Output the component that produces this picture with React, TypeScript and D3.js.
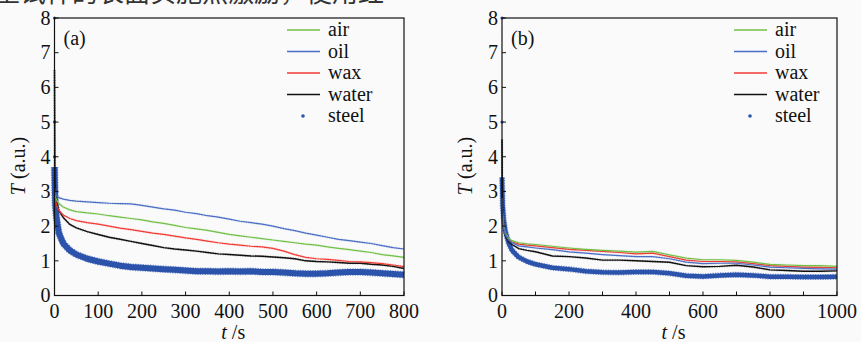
import React, { useEffect, useRef } from "react";
import * as d3 from "d3";

// panel (a): time in s
const timeA = [0, 1, 2, 5, 10, 20, 35, 50, 75, 100, 125, 150, 175, 200, 225, 250, 275, 300, 325, 350, 375, 400, 425, 450, 475, 500, 525, 550, 575, 600, 625, 650, 675, 700, 725, 750, 775, 800];
const airA = [2.95, 2.9, 2.85, 2.75, 2.65, 2.55, 2.47, 2.42, 2.38, 2.35, 2.3, 2.26, 2.22, 2.18, 2.12, 2.08, 2.02, 1.96, 1.92, 1.88, 1.82, 1.76, 1.72, 1.68, 1.64, 1.6, 1.56, 1.52, 1.48, 1.45, 1.4, 1.36, 1.32, 1.28, 1.24, 1.18, 1.14, 1.1];
const oilA = [3.1, 3.0, 2.95, 2.88, 2.82, 2.78, 2.74, 2.72, 2.7, 2.68, 2.66, 2.65, 2.64, 2.6, 2.55, 2.5, 2.46, 2.4, 2.36, 2.3, 2.26, 2.2, 2.14, 2.1, 2.06, 2.0, 1.93, 1.87, 1.8, 1.74, 1.68, 1.62, 1.58, 1.54, 1.5, 1.44, 1.38, 1.34];
const waxA = [2.85, 2.8, 2.75, 2.6, 2.45, 2.32, 2.22, 2.16, 2.1, 2.06, 2.0, 1.94, 1.9, 1.85, 1.8, 1.76, 1.71, 1.66, 1.62, 1.57, 1.52, 1.48, 1.45, 1.42, 1.4, 1.36, 1.28, 1.18, 1.1, 1.06, 1.04, 1.01, 0.98, 0.97, 0.95, 0.92, 0.88, 0.83];
const waterA = [6.5, 3.3, 2.9, 2.7, 2.45, 2.25, 2.05, 1.95, 1.84, 1.76, 1.68, 1.62, 1.56, 1.5, 1.44, 1.38, 1.34, 1.31, 1.28, 1.24, 1.2, 1.18, 1.16, 1.14, 1.13, 1.11, 1.09, 1.06, 1.0, 0.98, 0.97, 0.95, 0.93, 0.93, 0.9, 0.88, 0.84, 0.78];
const steelA = [3.7, 3.0, 2.6, 2.2, 1.8, 1.5, 1.3, 1.18, 1.06, 0.98, 0.92, 0.86, 0.82, 0.8, 0.78, 0.76, 0.74, 0.72, 0.7, 0.7, 0.69, 0.7, 0.69, 0.7, 0.68, 0.68, 0.66, 0.64, 0.63, 0.63, 0.64, 0.66, 0.68, 0.68, 0.66, 0.64, 0.62, 0.6];
const steelStartA = [8, 5, 4, 3.4];

// panel (b)
const timeB = [0, 1, 2, 5, 10, 20, 30, 50, 75, 100, 150, 200, 250, 300, 350, 400, 450, 500, 550, 600, 650, 700, 750, 800, 850, 900, 950, 1000];
const airB = [2.8, 2.5, 2.3, 2.0, 1.8, 1.65, 1.58, 1.52, 1.49, 1.47, 1.42, 1.37, 1.33, 1.3, 1.28, 1.25, 1.27, 1.17, 1.08, 1.03, 1.03, 1.01, 0.96, 0.9, 0.88, 0.86, 0.86, 0.84];
const oilB = [2.8, 2.5, 2.3, 1.98, 1.76, 1.6, 1.52, 1.43, 1.4, 1.37, 1.32, 1.26, 1.22, 1.18, 1.15, 1.12, 1.12, 1.06, 0.96, 0.92, 0.93, 0.93, 0.88, 0.82, 0.8, 0.78, 0.77, 0.76];
const waxB = [2.8, 2.5, 2.3, 2.0, 1.78, 1.62, 1.55, 1.48, 1.45, 1.43, 1.38, 1.33, 1.3, 1.27, 1.24, 1.2, 1.22, 1.12, 1.02, 0.98, 0.98, 0.97, 0.92, 0.86, 0.84, 0.82, 0.81, 0.8];
const waterB = [4.5, 3.0, 2.6, 2.0, 1.72, 1.55, 1.47, 1.35, 1.3, 1.26, 1.14, 1.12, 1.08, 1.02, 1.02, 1.0, 0.98, 0.96, 0.86, 0.83, 0.84, 0.87, 0.82, 0.74, 0.72, 0.7, 0.7, 0.71];
const steelB = [3.4, 3.0, 2.6, 2.2, 1.85, 1.5, 1.3, 1.1, 0.98, 0.9, 0.8, 0.76, 0.7, 0.67, 0.66, 0.68, 0.68, 0.64, 0.57, 0.55, 0.58, 0.6, 0.58, 0.54, 0.54, 0.53, 0.53, 0.54];
const steelStartB = [8, 5];

const yTicks = [0, 1, 2, 3, 4, 5, 6, 7, 8];
const xTicksA = [0, 100, 200, 300, 400, 500, 600, 700, 800];
const xLabelsA = [0, 100, 200, 300, 400, 500, 600, 700, 800];
const xTicksB = [0, 100, 200, 300, 400, 500, 600, 700, 800, 900, 1000];
const xLabelsB = [0, 200, 400, 600, 800, 1000];

const legendNames = ["air", "oil", "wax", "water", "steel"];
const colors: Record<string, string> = {
  air: "#72c046",
  oil: "#4a6ec4",
  wax: "#f23a35",
  water: "#111111",
  steel: "#2b53ab",
};

const serif = "Liberation Serif, Times New Roman, DejaVu Serif, Noto Serif, serif";

function drawPanel(svg: any, opt: any) {
  const g = svg.append("g");
  const x = d3.scaleLinear().domain([0, opt.xMax]).range([opt.left, opt.right]);
  const y = d3.scaleLinear().domain([0, 8]).range([295.5, 18]);

  const line = d3
    .line<number>()
    .x((d, i) => x(opt.time[i]))
    .y((d) => y(d));

  // steel dots: dense band with ragged edge
  g.append("path")
    .attr("d", line(opt.steel))
    .attr("fill", "none")
    .attr("stroke", colors.steel)
    .attr("stroke-width", opt.band + 1.5)
    .attr("stroke-dasharray", "1.2,1.3")
    .attr("stroke-opacity", 0.6);
  g.append("path")
    .attr("d", line(opt.steel))
    .attr("fill", "none")
    .attr("stroke", colors.steel)
    .attr("stroke-width", opt.band)
    .attr("stroke-linejoin", "round");

  g.selectAll(".start")
    .data(opt.steelStart)
    .enter()
    .append("circle")
    .attr("cx", x(0))
    .attr("cy", (d: number) => y(d))
    .attr("r", 1.6)
    .attr("fill", colors.steel);

  const series = [
    ["water", opt.water],
    ["wax", opt.wax],
    ["air", opt.air],
    ["oil", opt.oil],
  ];
  series.forEach(([name, vals]: any) => {
    g.append("path")
      .attr("d", line(vals))
      .attr("fill", "none")
      .attr("stroke", colors[name])
      .attr("stroke-opacity", 0.3)
      .attr("stroke-width", 2.6)
      .attr("stroke-dasharray", "1,1.5");
    g.append("path")
      .attr("d", line(vals))
      .attr("fill", "none")
      .attr("stroke", colors[name])
      .attr("stroke-width", name === "water" ? 1.4 : 1.2);
  });

  // frame
  g.append("rect")
    .attr("x", opt.left)
    .attr("y", 18)
    .attr("width", opt.right - opt.left)
    .attr("height", 295.5 - 18)
    .attr("fill", "none")
    .attr("stroke", "#111")
    .attr("stroke-width", 1.2);

  // inward ticks
  g.selectAll(".yt")
    .data(yTicks)
    .enter()
    .append("line")
    .attr("x1", opt.left)
    .attr("x2", opt.left + 4)
    .attr("y1", (d: number) => y(d))
    .attr("y2", (d: number) => y(d))
    .attr("stroke", "#111");
  g.selectAll(".xt")
    .data(opt.xTicks)
    .enter()
    .append("line")
    .attr("x1", (d: number) => x(d))
    .attr("x2", (d: number) => x(d))
    .attr("y1", 295.5)
    .attr("y2", 291.5)
    .attr("stroke", "#111");

  g.selectAll(".yl")
    .data(yTicks)
    .enter()
    .append("text")
    .attr("x", opt.left - 4)
    .attr("y", (d: number) => y(d))
    .attr("dy", "0.34em")
    .attr("text-anchor", "end")
    .attr("font-family", serif)
    .attr("font-size", 20)
    .attr("fill", "#111")
    .text((d: number) => d);
  g.selectAll(".xl")
    .data(opt.xLabels)
    .enter()
    .append("text")
    .attr("x", (d: number) => x(d))
    .attr("y", 318)
    .attr("text-anchor", "middle")
    .attr("font-family", serif)
    .attr("font-size", 20)
    .attr("fill", "#111")
    .text((d: number) => d);

  // axis titles
  const yt = g
    .append("text")
    .attr("transform", "translate(" + opt.yTitleX + ",166) rotate(-90)")
    .attr("text-anchor", "middle")
    .attr("dy", "0.35em")
    .attr("font-family", serif)
    .attr("font-size", 20)
    .attr("fill", "#111");
  yt.append("tspan").attr("font-style", "italic").text("T");
  yt.append("tspan").text(" (a.u.)");

  const xt = g
    .append("text")
    .attr("x", (opt.left + opt.right) / 2 + 4)
    .attr("y", 339)
    .attr("text-anchor", "middle")
    .attr("font-family", serif)
    .attr("font-size", 20)
    .attr("fill", "#111");
  xt.append("tspan").attr("font-style", "italic").text("t");
  xt.append("tspan").text(" /s");

  g.append("text")
    .attr("x", opt.left + 9)
    .attr("y", 45)
    .attr("font-family", serif)
    .attr("font-size", 20)
    .attr("fill", "#111")
    .text(opt.tag);

  // legend
  const lg = g.append("g").attr("transform", "translate(" + opt.legendX + ",30)");
  legendNames.forEach((name, i) => {
    const row = lg.append("g").attr("transform", "translate(0," + i * 21.5 + ")");
    if (name === "steel") {
      row.append("circle").attr("cx", 16).attr("cy", 0).attr("r", 1.8).attr("fill", colors.steel);
    } else {
      row.append("line")
        .attr("x1", 0)
        .attr("x2", 33)
        .attr("y1", 0)
        .attr("y2", 0)
        .attr("stroke", colors[name])
        .attr("stroke-width", 1.3);
    }
    row.append("text")
      .attr("x", 41)
      .attr("dy", "0.3em")
      .attr("font-family", serif)
      .attr("font-size", 20)
      .attr("fill", "#111")
      .text(name);
  });
}

const App = () => {
  const ref = useRef<SVGSVGElement>(null);

  useEffect(() => {
    const svg = d3.select(ref.current);
    svg.selectAll("*").remove();

    svg.append("rect").attr("width", 861).attr("height", 342).attr("fill", "#fafafa");

    // clipped caption line from the page above
    svg
      .append("text")
      .attr("x", -6)
      .attr("y", 2)
      .attr("font-family", "Noto Sans CJK SC, sans-serif")
      .attr("font-size", 26)
      .attr("fill", "#333")
      .text("至试样的表面实施热激励，使用红");

    drawPanel(svg, {
      left: 54.5,
      right: 404,
      xMax: 800,
      time: timeA,
      air: airA,
      oil: oilA,
      wax: waxA,
      water: waterA,
      steel: steelA,
      steelStart: steelStartA,
      xTicks: xTicksA,
      xLabels: xLabelsA,
      band: 6,
      tag: "(a)",
      yTitleX: 18,
      legendX: 287,
    });
    drawPanel(svg, {
      left: 502,
      right: 837,
      xMax: 1000,
      time: timeB,
      air: airB,
      oil: oilB,
      wax: waxB,
      water: waterB,
      steel: steelB,
      steelStart: steelStartB,
      xTicks: xTicksB,
      xLabels: xLabelsB,
      band: 4.5,
      tag: "(b)",
      yTitleX: 465,
      legendX: 734,
    });
  }, []);

  return (
    <svg
      ref={ref}
      width={861}
      height={342}
      style={{ position: "absolute", left: 0, top: 0, display: "block" }}
    ></svg>
  );
};

export default App;
